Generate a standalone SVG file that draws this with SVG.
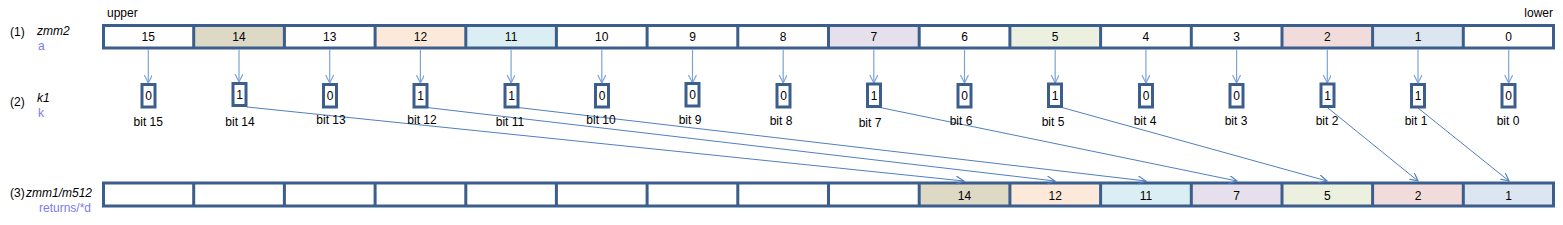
<svg xmlns="http://www.w3.org/2000/svg" width="1563" height="225" viewBox="0 0 1563 225">
<style>
text{font-family:"Liberation Sans",Arial,sans-serif;font-size:12px;fill:#000}
.c{text-anchor:middle}
.it{font-style:italic}
.pu{fill:#7b7bf0}
.frame{fill:none;stroke:#3b5e8c;stroke-width:3}
.div{stroke:#3b5e8c;stroke-width:3}
.bx{fill:#fff;stroke:#3b5e8c;stroke-width:3}
.v{stroke:#7fa2d6;stroke-width:1.2;fill:none}
.d{stroke:#4f7fc0;stroke-width:1;fill:none}
.c14{fill:#ddd9c4}.c12{fill:#fde9d9}.c11{fill:#daeef3}.c7{fill:#e5e0ec}.c5{fill:#ebf1de}.c2{fill:#f2dcdb}.c1{fill:#dce6f1}.cw{fill:#fff}
</style>
<defs>
<marker id="ah" markerWidth="10" markerHeight="10" refX="8" refY="4" orient="auto" markerUnits="userSpaceOnUse">
<path d="M0,0 L8,4 L0,8" fill="none" stroke="#7fa2d6" stroke-width="1.2"/>
</marker>
<marker id="ad" markerWidth="10" markerHeight="10" refX="8" refY="4" orient="auto" markerUnits="userSpaceOnUse">
<path d="M0,0 L8,4 L0,8" fill="none" stroke="#4f7fc0" stroke-width="1.2"/>
</marker>
</defs>

<g id="labels">
<text x="107" y="17">upper</text>
<text x="1553" y="17" text-anchor="end">lower</text>
<text x="10" y="36">(1)</text>
<text x="37" y="35" class="it">zmm2</text>
<text x="38" y="50" class="pu">a</text>
<text x="10" y="106">(2)</text>
<text x="37" y="102" class="it">k1</text>
<text x="38" y="117" class="pu">k</text>
<text x="10" y="197">(3)</text>
<text x="26" y="197" class="it">zmm1/m512</text>
<text x="91" y="212" class="pu" text-anchor="end">returns/*d</text>
</g>

<g id="zmm2">
<g id="a15"><rect class="cw" x="103" y="25.5" width="90.7" height="22.5"/><text class="c" x="148.3" y="41">15</text></g>
<g id="a14"><rect class="c14" x="193.7" y="25.5" width="90.7" height="22.5"/><text class="c" x="239" y="41">14</text></g>
<g id="a13"><rect class="cw" x="284.4" y="25.5" width="90.7" height="22.5"/><text class="c" x="329.7" y="41">13</text></g>
<g id="a12"><rect class="c12" x="375.1" y="25.5" width="90.7" height="22.5"/><text class="c" x="420.4" y="41">12</text></g>
<g id="a11"><rect class="c11" x="465.8" y="25.5" width="90.7" height="22.5"/><text class="c" x="511.1" y="41">11</text></g>
<g id="a10"><rect class="cw" x="556.4" y="25.5" width="90.7" height="22.5"/><text class="c" x="601.8" y="41">10</text></g>
<g id="a9"><rect class="cw" x="647.1" y="25.5" width="90.7" height="22.5"/><text class="c" x="692.5" y="41">9</text></g>
<g id="a8"><rect class="cw" x="737.8" y="25.5" width="90.7" height="22.5"/><text class="c" x="783.2" y="41">8</text></g>
<g id="a7"><rect class="c7" x="828.5" y="25.5" width="90.7" height="22.5"/><text class="c" x="873.8" y="41">7</text></g>
<g id="a6"><rect class="cw" x="919.2" y="25.5" width="90.7" height="22.5"/><text class="c" x="964.5" y="41">6</text></g>
<g id="a5"><rect class="c5" x="1009.9" y="25.5" width="90.7" height="22.5"/><text class="c" x="1055.2" y="41">5</text></g>
<g id="a4"><rect class="cw" x="1100.6" y="25.5" width="90.7" height="22.5"/><text class="c" x="1145.9" y="41">4</text></g>
<g id="a3"><rect class="cw" x="1191.3" y="25.5" width="90.7" height="22.5"/><text class="c" x="1236.6" y="41">3</text></g>
<g id="a2"><rect class="c2" x="1282" y="25.5" width="90.7" height="22.5"/><text class="c" x="1327.3" y="41">2</text></g>
<g id="a1"><rect class="c1" x="1372.6" y="25.5" width="90.7" height="22.5"/><text class="c" x="1418" y="41">1</text></g>
<g id="a0"><rect class="cw" x="1463.3" y="25.5" width="90.7" height="22.5"/><text class="c" x="1508.7" y="41">0</text></g>
<rect class="frame" x="103.5" y="25.5" width="1450" height="22.5"/>
<path class="div" d="M193.7,25.5V48M284.4,25.5V48M375.1,25.5V48M465.8,25.5V48M556.4,25.5V48M647.1,25.5V48M737.8,25.5V48M828.5,25.5V48M919.2,25.5V48M1009.9,25.5V48M1100.6,25.5V48M1191.3,25.5V48M1282,25.5V48M1372.6,25.5V48M1463.3,25.5V48"/>
</g>

<g id="result">
<g id="r15"><rect class="cw" x="103" y="183" width="90.7" height="23"/></g>
<g id="r14"><rect class="cw" x="193.7" y="183" width="90.7" height="23"/></g>
<g id="r13"><rect class="cw" x="284.4" y="183" width="90.7" height="23"/></g>
<g id="r12"><rect class="cw" x="375.1" y="183" width="90.7" height="23"/></g>
<g id="r11"><rect class="cw" x="465.8" y="183" width="90.7" height="23"/></g>
<g id="r10"><rect class="cw" x="556.4" y="183" width="90.7" height="23"/></g>
<g id="r9"><rect class="cw" x="647.1" y="183" width="90.7" height="23"/></g>
<g id="r8"><rect class="cw" x="737.8" y="183" width="90.7" height="23"/></g>
<g id="r7"><rect class="cw" x="828.5" y="183" width="90.7" height="23"/></g>
<g id="r6"><rect class="c14" x="919.2" y="183" width="90.7" height="23"/><text class="c" x="964.5" y="199.5">14</text></g>
<g id="r5"><rect class="c12" x="1009.9" y="183" width="90.7" height="23"/><text class="c" x="1055.2" y="199.5">12</text></g>
<g id="r4"><rect class="c11" x="1100.6" y="183" width="90.7" height="23"/><text class="c" x="1145.9" y="199.5">11</text></g>
<g id="r3"><rect class="c7" x="1191.3" y="183" width="90.7" height="23"/><text class="c" x="1236.6" y="199.5">7</text></g>
<g id="r2"><rect class="c5" x="1282" y="183" width="90.7" height="23"/><text class="c" x="1327.3" y="199.5">5</text></g>
<g id="r1"><rect class="c2" x="1372.6" y="183" width="90.7" height="23"/><text class="c" x="1418" y="199.5">2</text></g>
<g id="r0"><rect class="c1" x="1463.3" y="183" width="90.7" height="23"/><text class="c" x="1508.7" y="199.5">1</text></g>
<rect class="frame" x="103.5" y="183" width="1450" height="23"/>
<path class="div" d="M193.7,183V206M284.4,183V206M375.1,183V206M465.8,183V206M556.4,183V206M647.1,183V206M737.8,183V206M828.5,183V206M919.2,183V206M1009.9,183V206M1100.6,183V206M1191.3,183V206M1282,183V206M1372.6,183V206M1463.3,183V206"/>
</g>

<g id="connectors">
<path class="v" marker-end="url(#ah)" d="M148.3,49.5V83"/>
<path class="v" marker-end="url(#ah)" d="M239,49.5V82"/>
<path class="v" marker-end="url(#ah)" d="M329.7,49.5V83"/>
<path class="v" marker-end="url(#ah)" d="M420.4,49.5V83"/>
<path class="v" marker-end="url(#ah)" d="M511.1,49.5V83"/>
<path class="v" marker-end="url(#ah)" d="M601.8,49.5V83"/>
<path class="v" marker-end="url(#ah)" d="M692.5,49.5V83"/>
<path class="v" marker-end="url(#ah)" d="M783.2,49.5V83"/>
<path class="v" marker-end="url(#ah)" d="M873.8,49.5V83"/>
<path class="v" marker-end="url(#ah)" d="M964.5,49.5V83"/>
<path class="v" marker-end="url(#ah)" d="M1055.2,49.5V83"/>
<path class="v" marker-end="url(#ah)" d="M1145.9,49.5V83"/>
<path class="v" marker-end="url(#ah)" d="M1236.6,49.5V83"/>
<path class="v" marker-end="url(#ah)" d="M1327.3,49.5V83"/>
<path class="v" marker-end="url(#ah)" d="M1418,49.5V83"/>
<path class="v" marker-end="url(#ah)" d="M1508.7,49.5V83"/>
<path class="d" marker-end="url(#ad)" d="M247,107L964,181"/>
<path class="d" marker-end="url(#ad)" d="M427,107.5L1055,181"/>
<path class="d" marker-end="url(#ad)" d="M518,107.5L1146,181"/>
<path class="d" marker-end="url(#ad)" d="M880,107.5L1237,181"/>
<path class="d" marker-end="url(#ad)" d="M1062,107.5L1327,181"/>
<path class="d" marker-end="url(#ad)" d="M1328,108L1418,181"/>
<path class="d" marker-end="url(#ad)" d="M1418,108L1509,181"/>
</g>

<g id="k1">
<g id="b15"><rect class="bx" x="142" y="84.5" width="13" height="22.5"/><text class="c" x="148.5" y="100">0</text><text class="c" x="148.3" y="126">bit 15</text></g>
<g id="b14"><rect class="bx" x="233" y="83.5" width="13" height="22"/><text class="c" x="239.5" y="99">1</text><text class="c" x="240" y="126">bit 14</text></g>
<g id="b13"><rect class="bx" x="323.5" y="84.5" width="13" height="22.5"/><text class="c" x="330" y="100">0</text><text class="c" x="331" y="124">bit 13</text></g>
<g id="b12"><rect class="bx" x="414" y="84.5" width="13" height="22.5"/><text class="c" x="420.5" y="100">1</text><text class="c" x="422" y="124">bit 12</text></g>
<g id="b11"><rect class="bx" x="505" y="84.5" width="13" height="22.5"/><text class="c" x="511.5" y="100">1</text><text class="c" x="510" y="126">bit 11</text></g>
<g id="b10"><rect class="bx" x="595.5" y="84.5" width="13" height="22.5"/><text class="c" x="602" y="100">0</text><text class="c" x="601" y="124">bit 10</text></g>
<g id="b9"><rect class="bx" x="686" y="83.5" width="13" height="22.5"/><text class="c" x="692.5" y="99">0</text><text class="c" x="690" y="124">bit 9</text></g>
<g id="b8"><rect class="bx" x="777" y="84.5" width="13" height="22.5"/><text class="c" x="783.5" y="100">0</text><text class="c" x="781" y="125">bit 8</text></g>
<g id="b7"><rect class="bx" x="867.5" y="84" width="13" height="22.5"/><text class="c" x="874" y="99.5">1</text><text class="c" x="870" y="127">bit 7</text></g>
<g id="b6"><rect class="bx" x="958" y="84.5" width="13" height="22.5"/><text class="c" x="964.5" y="100">0</text><text class="c" x="961" y="125">bit 6</text></g>
<g id="b5"><rect class="bx" x="1048.5" y="84" width="13" height="22.5"/><text class="c" x="1055" y="99.5">1</text><text class="c" x="1053" y="126">bit 5</text></g>
<g id="b4"><rect class="bx" x="1139.5" y="84.5" width="13" height="22.5"/><text class="c" x="1146" y="100">0</text><text class="c" x="1145" y="125">bit 4</text></g>
<g id="b3"><rect class="bx" x="1230" y="84.5" width="13" height="22.5"/><text class="c" x="1236.5" y="100">0</text><text class="c" x="1236" y="125">bit 3</text></g>
<g id="b2"><rect class="bx" x="1321" y="84" width="13" height="22.5"/><text class="c" x="1327.5" y="99.5">1</text><text class="c" x="1327" y="125">bit 2</text></g>
<g id="b1"><rect class="bx" x="1411.5" y="84.5" width="13" height="22.5"/><text class="c" x="1418" y="100">1</text><text class="c" x="1416" y="125">bit 1</text></g>
<g id="b0"><rect class="bx" x="1502" y="84.5" width="13" height="22.5"/><text class="c" x="1508.5" y="100">0</text><text class="c" x="1508" y="125">bit 0</text></g>
</g>
</svg>
